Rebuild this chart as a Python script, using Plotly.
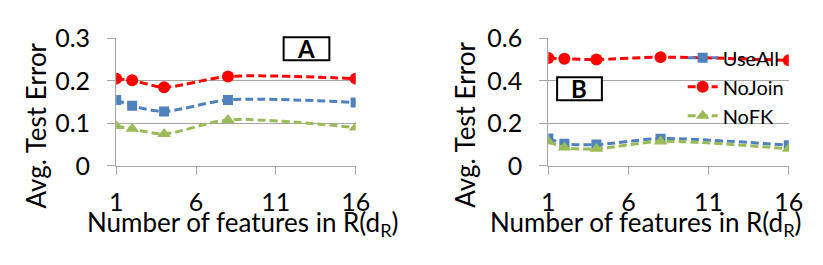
import plotly.graph_objects as go

x_vals = [1, 2, 4, 8, 16]

a_useall = [0.155, 0.141, 0.128, 0.155, 0.149]
a_nojoin = [0.205, 0.201, 0.185, 0.210, 0.205]
a_nofk = [0.094, 0.087, 0.075, 0.108, 0.090]

b_useall = [0.129, 0.104, 0.100, 0.128, 0.097]
b_nojoin = [0.507, 0.503, 0.500, 0.511, 0.496]
b_nofk = [0.115, 0.086, 0.080, 0.115, 0.080]

series_names = ["UseAll", "NoJoin", "NoFK"]
colors = ["#4F81BD", "#FF0000", "#9BBB59"]
symbols = ["square", "circle", "triangle-up"]
msizes = [10, 12, 12]

W, H = 823, 265
FONT = "Lato, 'Open Sans', sans-serif"
FS = 26
TFS = 25

fig = go.Figure()

def add_panel(vals, xa, ya, show):
    for name, v, c, s, ms in zip(series_names, vals, colors, symbols, msizes):
        fig.add_trace(go.Scatter(
            x=x_vals, y=v, name=name, mode="lines+markers",
            line=dict(color=c, width=3, dash="8px,4px", shape="spline", smoothing=0.8),
            marker=dict(symbol=s, size=ms, color=c),
            xaxis=xa, yaxis=ya, showlegend=show))

add_panel([a_useall, a_nojoin, a_nofk], "x", "y", False)
add_panel([b_useall, b_nojoin, b_nofk], "x2", "y2", True)

y0 = 1 - 160 / H
y1 = 1 - 16 / H
grid = "#A6A6A6"

common_x = dict(range=[1, 16], tickvals=[1, 6, 11, 16], showgrid=False,
                showline=True, linecolor=grid, linewidth=1.3,
                ticks="outside", ticklen=8, tickcolor=grid, tickwidth=1.3,
                tickfont=dict(family=FONT, size=TFS, color="black"),
                ticklabelstandoff=6, ticklabeloverflow="allow", zeroline=False)
common_y = dict(showgrid=True, gridcolor=grid, gridwidth=1.3,
                showline=True, linecolor=grid, linewidth=1.3,
                ticks="outside", ticklen=8, tickcolor=grid, tickwidth=1.3,
                tickfont=dict(family=FONT, size=TFS, color="black"),
                ticklabeloverflow="allow", zeroline=False)

fig.update_layout(
    width=W, height=H, margin=dict(l=0, r=0, t=0, b=0),
    paper_bgcolor="white", plot_bgcolor="white",
    font=dict(family=FONT, size=FS, color="black"),
    xaxis=dict(domain=[104 / W, 350 / W], anchor="y", **common_x),
    yaxis=dict(domain=[y0, y1], anchor="x", range=[0, 0.3], tickvals=[0, 0.1, 0.2, 0.3],
               ticktext=["0", "0.1", "0.2", "0.3"], ticklabelstandoff=12, **common_y),
    xaxis2=dict(domain=[548 / W, 795 / W], anchor="y2", **common_x),
    yaxis2=dict(domain=[y0, y1], anchor="x2", range=[0, 0.6], tickvals=[0, 0.2, 0.4, 0.6],
                ticktext=["0", "0.2", "0.4", "0.6"], ticklabelstandoff=12, **common_y),
    legend=dict(x=686 / W, y=1 - 16 / H, xanchor="left", yanchor="top",
                bgcolor="rgba(0,0,0,0)", font=dict(family=FONT, size=20),
                tracegroupgap=0, itemwidth=30),
    showlegend=True,
)

ann = []
for cx in [234, 648]:
    ann.append(dict(x=cx / W, y=1 - 225 / H, xref="paper", yref="paper",
                    text="Number of features in R(d<sub>R</sub>)", showarrow=False,
                    font=dict(family=FONT, size=FS), xanchor="center", yanchor="middle"))
for cx in [22, 462]:
    ann.append(dict(x=cx / W, y=1 - 114 / H, xref="paper", yref="paper",
                    text="Avg. Test Error", textangle=-90, showarrow=False,
                    font=dict(family=FONT, size=FS), xanchor="center", yanchor="middle"))
for lab, (bx0, by0, bx1, by1) in [("A", (276, 15, 323, 41)), ("B", (557, 60, 603, 86))]:
    fig.add_shape(type="rect", xref="paper", yref="paper",
                  x0=bx0 / W, x1=bx1 / W, y0=1 - by1 / H, y1=1 - by0 / H,
                  line=dict(color="black", width=2), fillcolor="white")
    ann.append(dict(x=(bx0 + bx1) / 2 / W, y=1 - (by0 + by1) / 2 / H, xref="paper", yref="paper",
                    text="<b>%s</b>" % lab, showarrow=False,
                    font=dict(family=FONT, size=24), xanchor="center", yanchor="middle"))
fig.update_layout(annotations=ann)

fig.write_html("out.html")
